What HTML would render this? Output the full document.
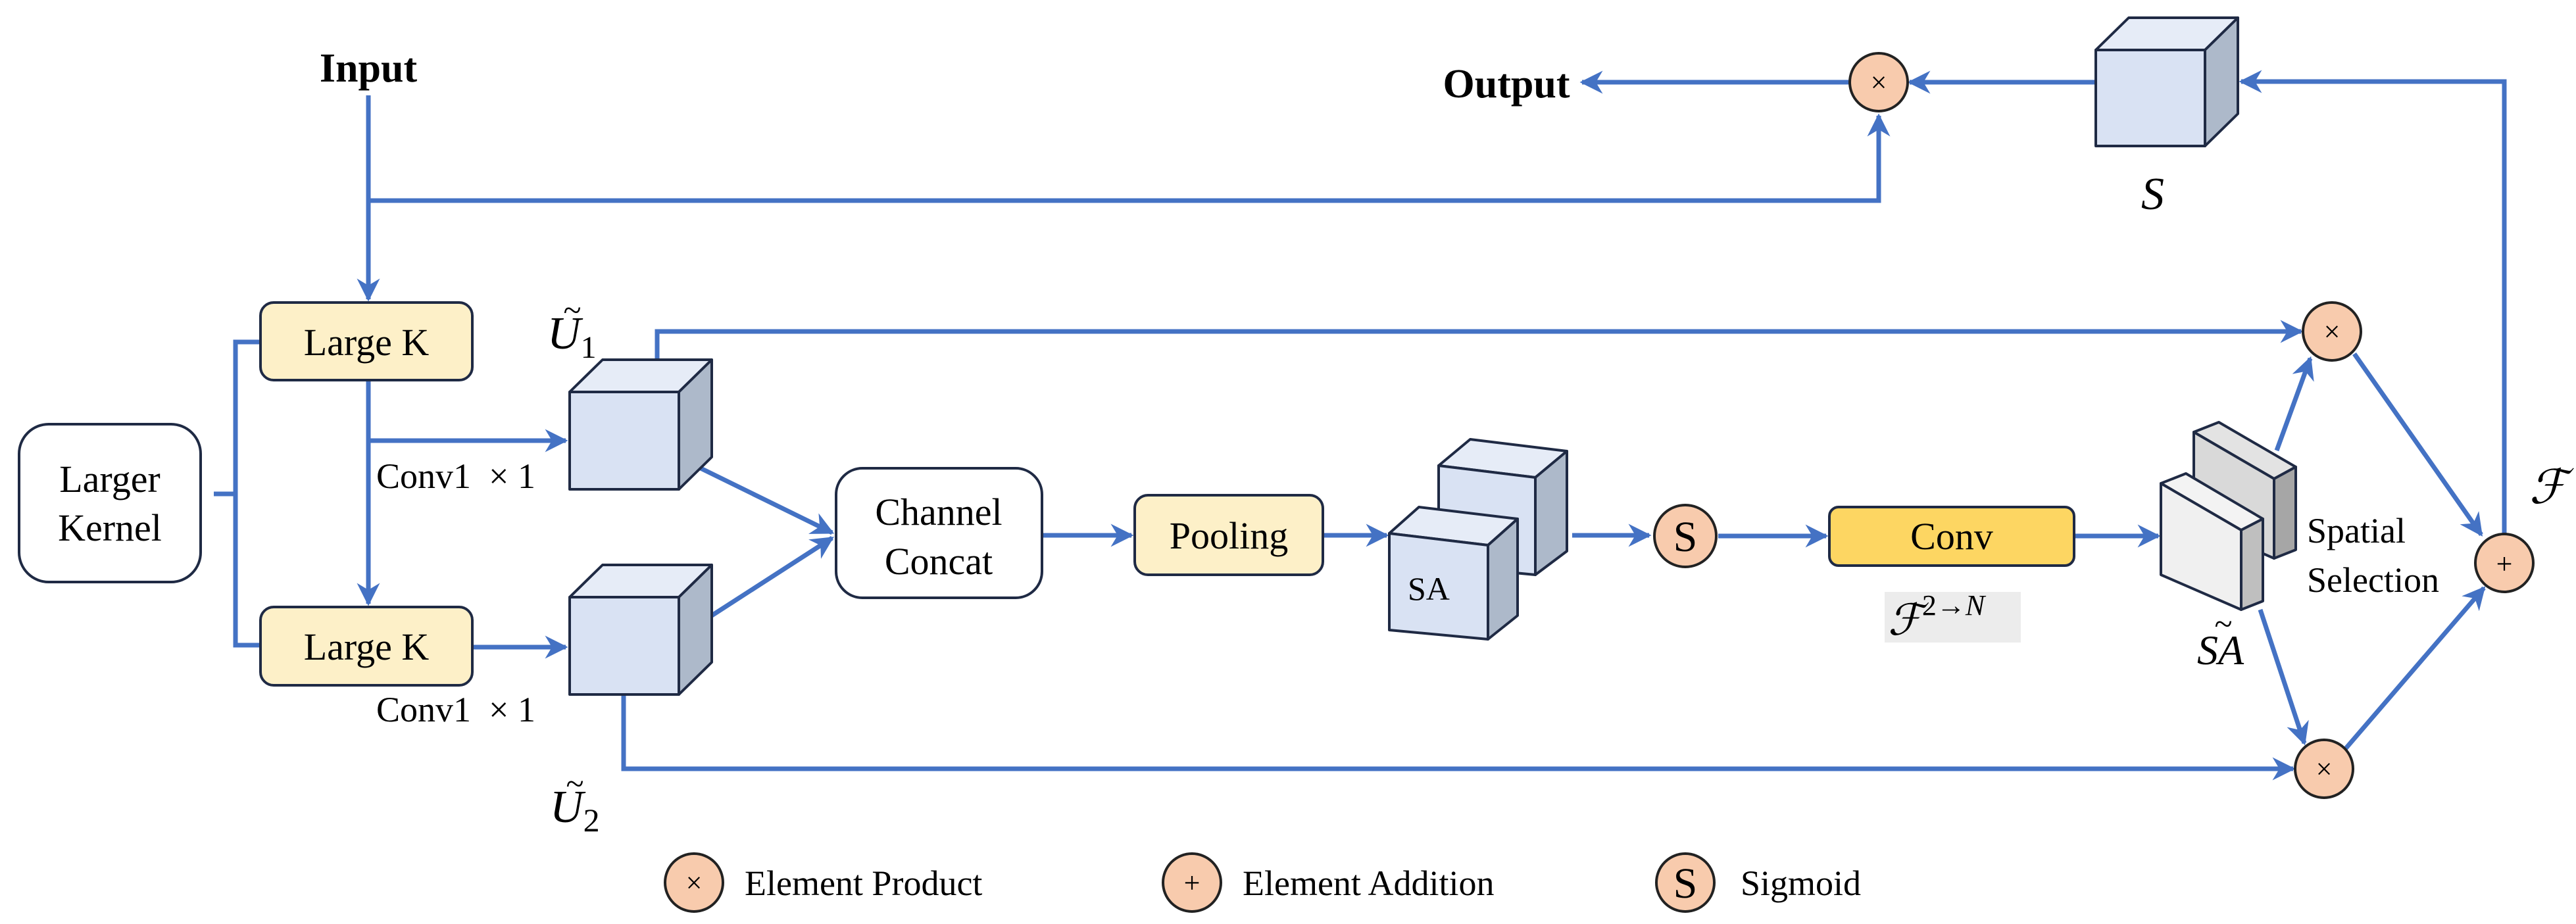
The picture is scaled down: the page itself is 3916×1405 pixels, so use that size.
<!DOCTYPE html>
<html><head><meta charset="utf-8"><style>
html,body{margin:0;padding:0;background:#fff;}
svg{display:block;font-family:"Liberation Serif","DejaVu Serif",serif;}
svg text{font-family:"Liberation Serif","DejaVu Serif",serif !important;fill:#000;}
.it{font-style:italic;}
</style></head><body>
<svg width="3916" height="1405" viewBox="0 0 3916 1405" xmlns="http://www.w3.org/2000/svg" font-family="Liberation Serif, serif">
<defs>
<marker id="a" viewBox="0 0 10 10" refX="9" refY="5" markerWidth="5" markerHeight="5" orient="auto" markerUnits="strokeWidth">
<path d="M0,0 L10,5 L0,10 L3,5 z" fill="#4472c4"/></marker>
</defs>
<g stroke="#4472c4" stroke-width="7" fill="none">
<path d="M560,145 V455" marker-end="url(#a)"/>
<path d="M560,305 H2856 V176" marker-end="url(#a)"/>
<path d="M2812,125 H2405" marker-end="url(#a)"/>
<path d="M3186,125 H2903" marker-end="url(#a)"/>
<path d="M3807,814 V124 H3407" marker-end="url(#a)"/>
<path d="M325,751 H358 M396,520 H358 V981 H396"/>
<path d="M560,578 V918" marker-end="url(#a)"/>
<path d="M560,670 H860" marker-end="url(#a)"/>
<path d="M718,984 H860" marker-end="url(#a)"/>
<path d="M999,547 V504 H3498" marker-end="url(#a)"/>
<path d="M948,1056 V1169 H3486" marker-end="url(#a)"/>
<path d="M1057,708 L1265,810" marker-end="url(#a)"/>
<path d="M1082,936 L1265,818" marker-end="url(#a)"/>
<path d="M1584,814 H1720" marker-end="url(#a)"/>
<path d="M2011,814 H2108" marker-end="url(#a)"/>
<path d="M2390,814 H2507" marker-end="url(#a)"/>
<path d="M2612,815 H2776" marker-end="url(#a)"/>
<path d="M3153,815 H3281" marker-end="url(#a)"/>
<path d="M3461,685 L3512,545" marker-end="url(#a)"/>
<path d="M3579,538 L3772,813" marker-end="url(#a)"/>
<path d="M3436,927 L3503,1130" marker-end="url(#a)"/>
<path d="M3566,1138 L3776,894" marker-end="url(#a)"/>
</g>

<g stroke="#1f2a44" stroke-width="4">
<rect x="29" y="645" width="276" height="240" rx="45" fill="#fff"/>
<rect x="396" y="460" width="322" height="118" rx="20" fill="#fdf0c8"/>
<rect x="396" y="923" width="322" height="119" rx="20" fill="#fdf0c8"/>
<rect x="1271" y="712" width="313" height="197" rx="40" fill="#fff"/>
<rect x="1725" y="753" width="286" height="121" rx="20" fill="#fdf0c8"/>
<rect x="2781" y="771" width="372" height="89" rx="14" fill="#fdd662"/>
</g>
<rect x="2865" y="900" width="207" height="77" fill="#ececec"/>

<g stroke="#1f2a44" stroke-width="4" stroke-linejoin="round">
<polygon points="866,596 916,547 1082,547 1032,596" fill="#e6ecf7"/>
<polygon points="1032,596 1082,547 1082,695 1032,744" fill="#adb9ca"/>
<rect x="866" y="596" width="166" height="148" fill="#d9e2f3"/>
<polygon points="866,908 916,859 1082,859 1032,908" fill="#e6ecf7"/>
<polygon points="1032,908 1082,859 1082,1007 1032,1056" fill="#adb9ca"/>
<rect x="866" y="908" width="166" height="148" fill="#d9e2f3"/>
<polygon points="3186,76 3236,27 3402,27 3352,76" fill="#e6ecf7"/>
<polygon points="3352,76 3402,27 3402,173 3352,222" fill="#adb9ca"/>
<rect x="3186" y="76" width="166" height="146" fill="#d9e2f3"/>
<polygon points="2187,708 2235,668 2382,686 2334,726" fill="#e6ecf7"/>
<polygon points="2334,726 2382,686 2382,838 2334,874" fill="#adb9ca"/>
<polygon points="2187,708 2334,726 2334,874 2187,860" fill="#d9e2f3"/>
<polygon points="2112,811 2157,771 2307,789 2262,829" fill="#e6ecf7"/>
<polygon points="2262,829 2307,789 2307,936 2262,972" fill="#adb9ca"/>
<polygon points="2112,811 2262,829 2262,972 2112,958" fill="#d9e2f3"/>
<polygon points="3335,657 3373,642 3490,710 3457,728" fill="#e3e3e3"/>
<polygon points="3457,728 3490,710 3490,836 3457,849" fill="#a6a6a6"/>
<polygon points="3335,657 3457,728 3457,849 3335,796" fill="#d9d9d9"/>
<polygon points="3285,735 3323,720 3440,789 3407,806" fill="#f3f3f3"/>
<polygon points="3407,806 3440,789 3440,914 3407,927" fill="#bfbfbf"/>
<polygon points="3285,735 3407,806 3407,927 3285,874" fill="#f0f0f0"/>
</g>

<g stroke="#222" stroke-width="4" fill="#f8cbad">
<circle cx="2856" cy="125" r="44"/>
<circle cx="3545" cy="504" r="44"/>
<circle cx="3533" cy="1169" r="44"/>
<circle cx="3807" cy="856" r="44"/>
<circle cx="2562" cy="815" r="47"/>
<circle cx="1055" cy="1342" r="44"/>
<circle cx="1812" cy="1342" r="44"/>
<circle cx="2562" cy="1342" r="44"/>
</g>
<g font-size="44" text-anchor="middle">
<text x="2856" y="140">×</text>
<text x="3545" y="519">×</text>
<text x="3533" y="1184">×</text>
<text x="3807" y="872">+</text>
<text x="1055" y="1357">×</text>
<text x="1812" y="1357">+</text>
</g>
<text x="2562" y="838" font-size="66" text-anchor="middle">S</text>
<text x="2562" y="1365" font-size="66" text-anchor="middle">S</text>

<text x="560" y="124" font-size="62" font-weight="bold" text-anchor="middle">Input</text>
<text x="2290" y="148" font-size="62" font-weight="bold" text-anchor="middle">Output</text>
<g font-size="58" text-anchor="middle">
<text x="167" y="748">Larger</text>
<text x="167" y="822">Kernel</text>
<text x="557" y="540">Large K</text>
<text x="557" y="1003">Large K</text>
<text x="1427" y="798">Channel</text>
<text x="1427" y="873">Concat</text>
<text x="1868" y="834">Pooling</text>
<text x="2967" y="835">Conv</text>
</g>
<text x="2140" y="912" font-size="50">SA</text>
<g font-size="54">
<text x="572" y="742">Conv1 &#160;× 1</text>
<text x="572" y="1097">Conv1 &#160;× 1</text>
<text x="3507" y="825">Spatial</text>
<text x="3507" y="900">Selection</text>
<text x="1132" y="1361">Element Product</text>
<text x="1889" y="1361">Element Addition</text>
<text x="2646" y="1361">Sigmoid</text>
</g>
<g font-size="70">
<text x="832" y="530" class="it">U<tspan font-size="48" dy="14" font-style="normal">1</tspan></text>
<text x="836" y="1250" class="it">U<tspan font-size="50" dy="14" font-style="normal">2</tspan></text>
<text x="3255" y="318" class="it">S</text>
<text x="3340" y="1010" class="it" font-size="64">SA</text>
<text x="3845" y="765" class="it" font-size="72">ℱ</text>
<text x="2870" y="965" class="it" font-size="66">ℱ<tspan font-size="44" dy="-30" font-style="normal">2→</tspan><tspan font-size="44" class="it">N</tspan></text>
</g>
<g font-size="50" text-anchor="middle">
<text x="870" y="488">~</text>
<text x="874" y="1208">~</text>
<text x="3380" y="965">~</text>
</g>
</svg>
</body></html>
